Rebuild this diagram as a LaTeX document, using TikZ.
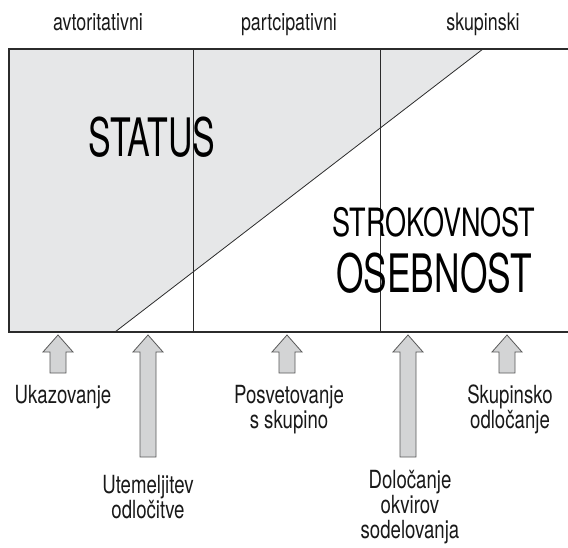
\documentclass[tikz,border=0pt]{standalone}
\usepackage{fontspec}
\setmainfont{TeX Gyre Heros}[FakeStretch=0.745]
\newfontfamily\bigfont{TeX Gyre Heros}[FakeStretch=0.64]
\newfontfamily\osfont{TeX Gyre Heros}[FakeStretch=0.667]
\newfontfamily\skfont{TeX Gyre Heros}[FakeStretch=0.694]
\definecolor{boxgray}{HTML}{E6E7E8}
\definecolor{arrowgray}{HTML}{D3D4D5}
\definecolor{linegray}{HTML}{2B2B2B}
\begin{document}
\begin{tikzpicture}[x=1pt,y=-1pt,
  lbl/.style={inner sep=0pt, align=center, anchor=base, font=\fontsize{25}{25}\selectfont, text=black!90},
  head/.style={inner sep=0pt, anchor=base, font=\fontsize{24}{25}\selectfont, text=black!90},
  arr/.style={fill=arrowgray, draw=black!65, line width=0.8pt, line join=miter},
  thin/.style={draw=linegray, line width=0.8pt}]
\useasboundingbox (0,0) rectangle (568,548);
\begin{scope}
\clip (0,0) rectangle (568,548);
% box fill
\fill[boxgray] (9,49) -- (483,49) -- (115,332) -- (9,332) -- cycle;
\draw[thin] (193,49) -- (193,332);
\draw[thin] (380,49) -- (380,332);
\draw[thin] (115,332) -- (483,49);
\draw[draw=linegray, line width=1.6pt] (580,49) -- (9,49) -- (9,332) -- (580,332);
\end{scope}
% headers
\node[head] (h1) at (98,31) {avtoritativni};
\node[head] (h2) at (289,31) {partcipativni};
\node[head] (h3) at (483,31) {skupinski};
% big words
\node[inner sep=0pt, anchor=base, font=\bigfont\fontsize{53}{60}\selectfont] (st) at (152,157) {STATUS};
\node[inner sep=0pt, anchor=base, font=\skfont\fontsize{39}{44}\selectfont] (sk) at (434,237) {STROKOVNOST};
\node[inner sep=0pt, anchor=base, font=\osfont\fontsize{53}{60}\selectfont] (os) at (434,293) {OSEBNOST};
% arrows
\foreach \cx/\bot in {58/373, 148/457, 287/373, 408/457, 507/373}{
  \draw[arr] (\cx,335) -- (\cx+15,352) -- (\cx+8,352) -- (\cx+8,\bot) -- (\cx-8,\bot) -- (\cx-8,352) -- (\cx-15,352) -- cycle;
}
% labels (base = baseline of last line)
\node[lbl] (l1) at (63,403) {Ukazovanje};
\node[lbl] (l2) at (148,518) {Utemeljitev\\odločitve};
\node[lbl] (l3) at (289,428) {Posvetovanje\\s skupino};
\node[lbl] (l4) at (410,538) {Določanje\\okvirov\\sodelovanja};
\node[lbl] (l5) at (510,428) {Skupinsko\\odločanje};
\end{tikzpicture}
\end{document}
